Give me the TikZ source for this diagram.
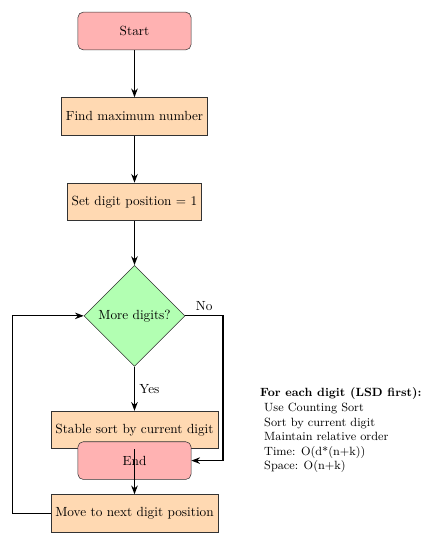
\documentclass[tikz,border=0pt]{standalone}
\usetikzlibrary{positioning, shapes.geometric, arrows.meta}

\begin{document}
\begin{tikzpicture}[
    startstop/.style={rectangle, rounded corners, minimum width=3cm, minimum height=1cm, draw=black!80, fill=red!30},
    process/.style={rectangle, minimum height=1cm, draw=black!80, fill=orange!30},
    decision/.style={diamond, aspect=1, minimum width=2.68cm, minimum height=2.68cm, inner sep=1pt, draw=black!80, fill=green!30},
    arrow/.style={thick, -Stealth}
]
\useasboundingbox (0,0) rectangle (11.64,-14.45);
\node[startstop] (start) at (3.566,-0.822) {Start};
\node[process, below=1.25cm of start] (findmax) {Find maximum number};
\node[process, below=1.25cm of findmax] (setpos) {Set digit position = 1};
\node[decision, below=1.17cm of setpos] (moredig) {More digits?};
\node[process, below=1.17cm of moredig] (sortdig) {Stable sort by current digit};
\node[startstop, below=-0.2cm of sortdig] (stop) {End};
\node[process, below=1.2cm of sortdig] (nextpos) {Move to next digit position};
\node[font=\small, align=left, anchor=north west, inner sep=0pt] (notes) at (6.89,-10.28)
    {\textbf{For each digit (LSD first):}\\
     \ Use Counting Sort\\
     \ Sort by current digit\\
     \ Maintain relative order\\
     \ Time: O(d*(n+k))\\
     \ Space: O(n+k)};
\draw[arrow] (start) -- (findmax);
\draw[arrow] (findmax) -- (setpos);
\draw[arrow] (setpos) -- (moredig);
\draw[arrow] (moredig) -- node[right] {Yes} (sortdig);
\draw[arrow] (sortdig) -- (nextpos);
\draw[arrow] (nextpos.west) -- ++(-1,0) |- (moredig.west);
\draw[arrow] (moredig.east) -- node[above] {No} ++(1,0) |- (stop.east);
\end{tikzpicture}
\end{document}
